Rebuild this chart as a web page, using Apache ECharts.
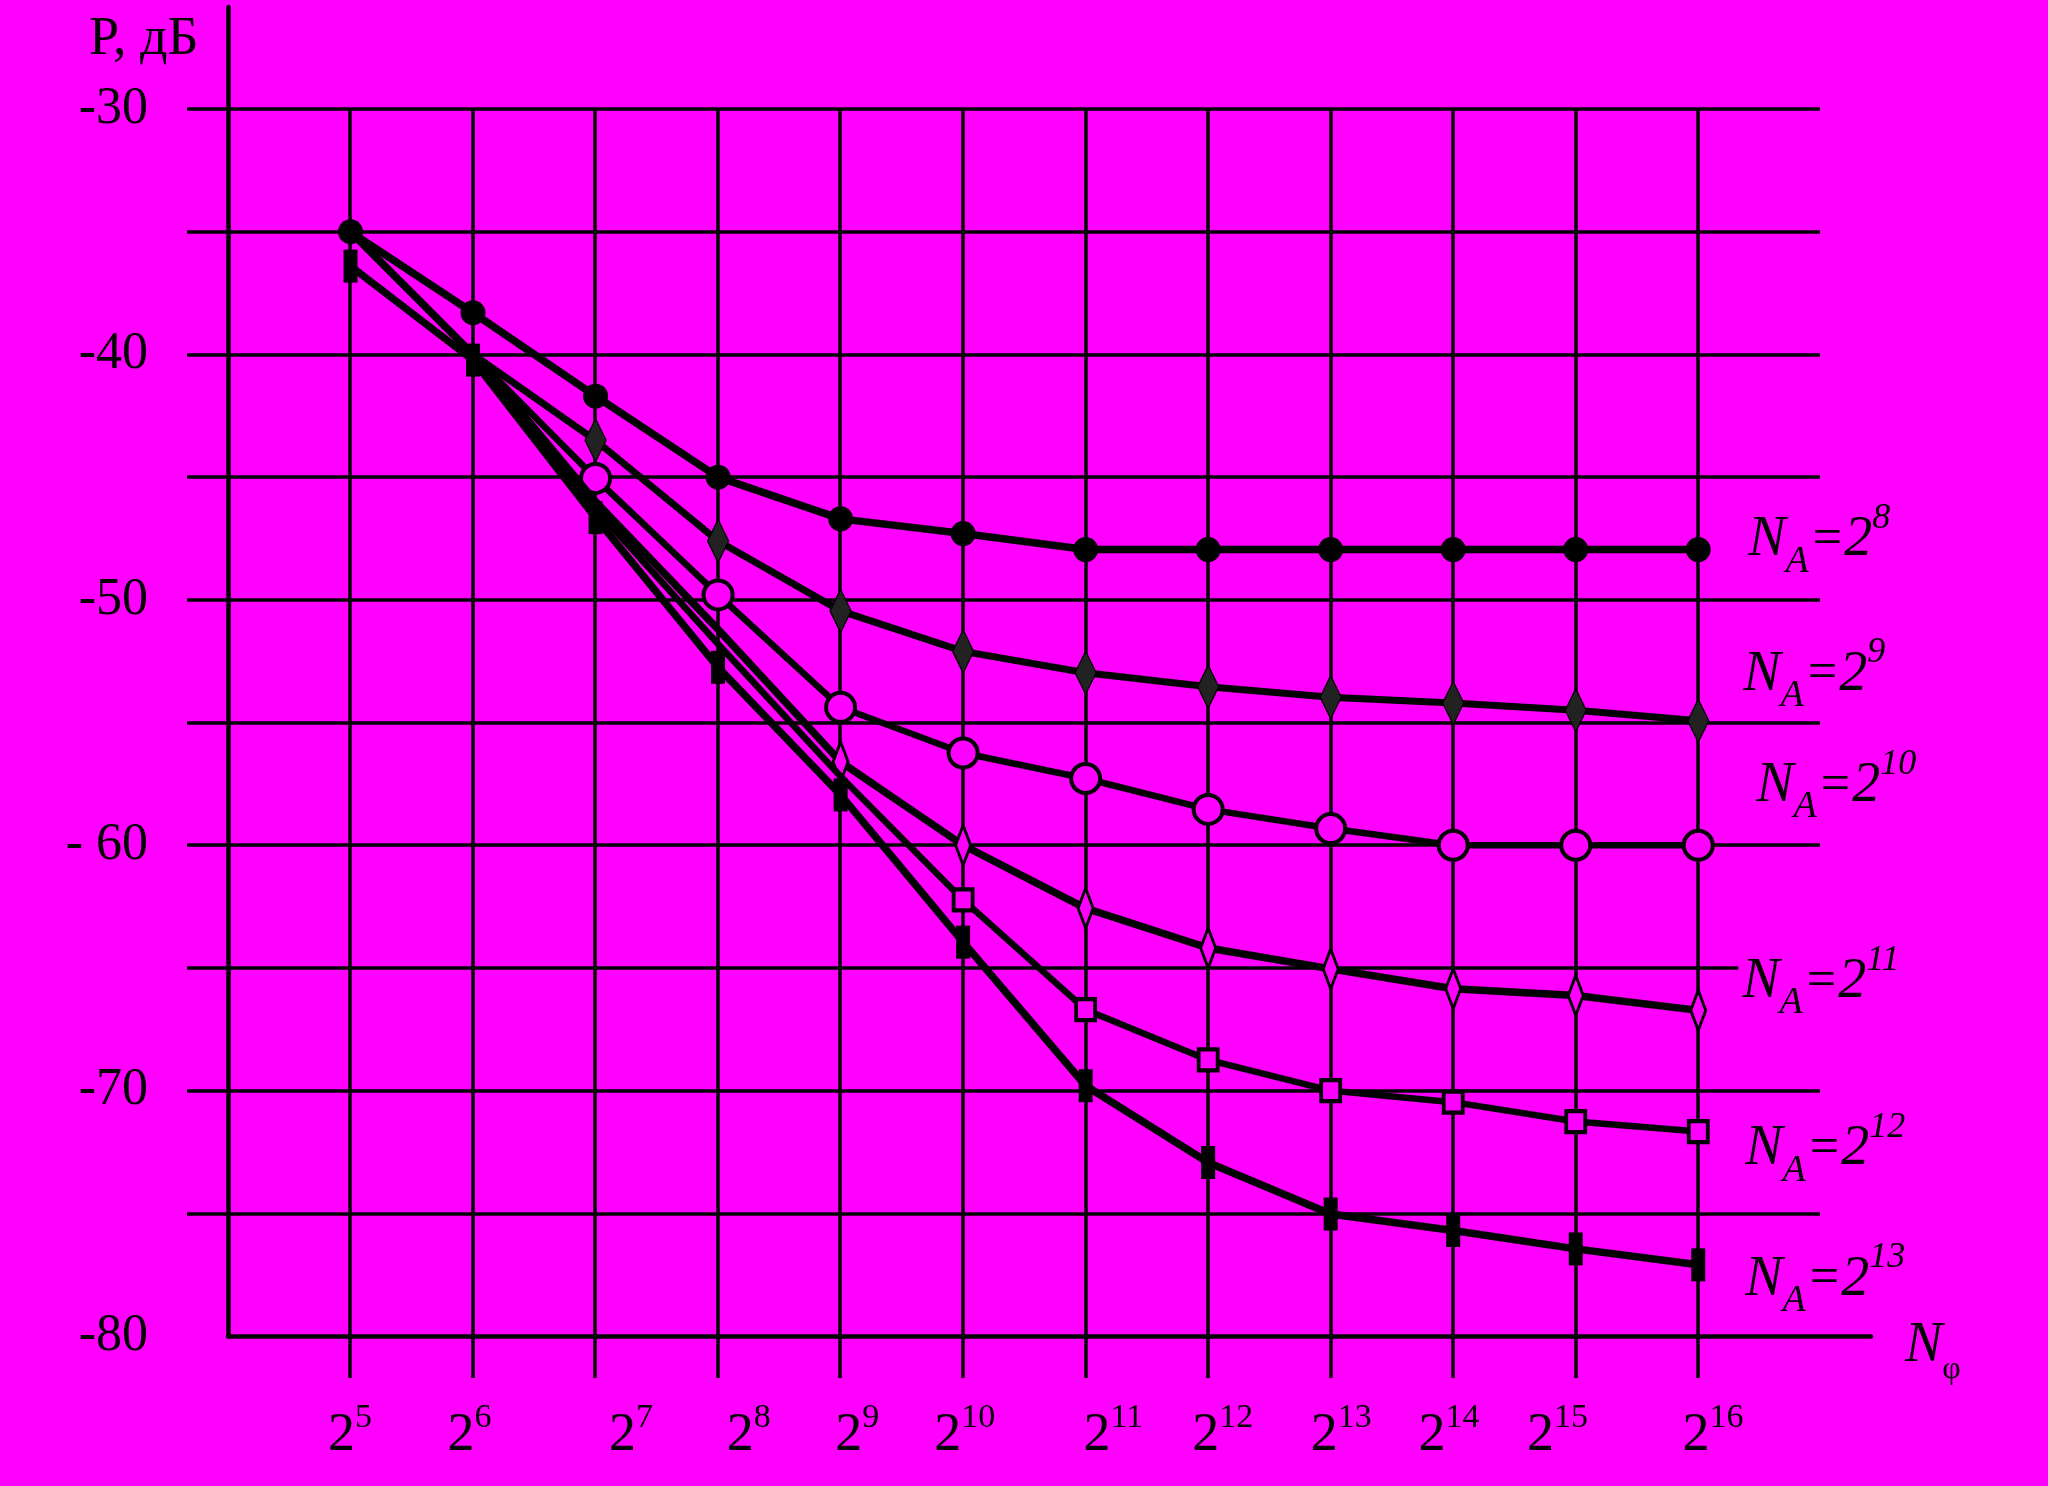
<!DOCTYPE html>
<html>
<head>
<meta charset="utf-8">
<script src="https://cdn.jsdelivr.net/npm/echarts@6/dist/echarts.min.js"></script>
<style>
  html, body { margin: 0; padding: 0; background: #ff00ff; }
  #chart { width: 2048px; height: 1486px; }
</style>
</head>
<body>
<div id="chart"></div>
<script>
// ---- data ----
const exps = [5, 6, 7, 8, 9, 10, 11, 12, 13, 14, 15, 16];            // x = log2(N_phi)
const xTickLabels = ['5', '6', '7', '8', '9', '10', '11', '12', '13', '14', '15', '16'];
const yTickValues = [-80, -70, -60, -50, -40, -30];
const yTickLabels = ['-80', '-70', '- 60', '-50', '-40', '-30'];
const seriesExp = ['8', '9', '10', '11', '12', '13'];                 // N_A = 2^k
const pNA8  = [-35.0, -38.3, -41.7, -45.0, -46.7, -47.3, -47.95, -47.95, -47.95, -47.95, -47.95, -47.95];
const pNA9  = [-35.0, -40.0, -43.5, -47.6, -50.45, -52.1, -52.97, -53.54, -53.97, -54.2, -54.5, -54.93];
const pNA10 = [-35.0, -40.0, -45.05, -49.8, -54.38, -56.24, -57.28, -58.54, -59.32, -60.0, -60.0, -60.0];
const pNA11 = [-35.0, -40.0, -46.0, -51.2, -56.6, -60.0, -62.57, -64.19, -65.04, -65.85, -66.12, -66.73];
const pNA12 = [-35.0, -40.0, -46.3, -51.8, -57.2, -62.23, -66.7, -68.75, -70.0, -70.47, -71.26, -71.67];
const pNA13 = [-36.4, -40.23, -46.65, -52.75, -57.95, -63.95, -69.8, -72.93, -75.03, -75.7, -76.45, -77.1];

// ---- styling ----
const MAG = '#ff00ff';
const SERIF = 'Liberation Serif';
const allValues = [pNA8, pNA9, pNA10, pNA11, pNA12, pNA13];
const markerFrom = [0, 2, 2, 4, 5, 0];
const symbolStyles = [
  { symbol: 'circle', size: 25, item: { color: '#000' } },
  { symbol: 'diamond', size: [21, 43], item: { color: '#222', borderColor: '#000', borderWidth: 1.5 } },
  { symbol: 'circle', size: 29, item: { color: MAG, borderColor: '#000', borderWidth: 4 } },
  { symbol: 'diamond', size: [15, 40], item: { color: MAG, borderColor: '#000', borderWidth: 3.5 } },
  { symbol: 'rect', size: [19, 21], item: { color: MAG, borderColor: '#000', borderWidth: 4 } },
  { symbol: 'rect', size: [14, 33], item: { color: '#000' } }
];
const lineWidths = [7.5, 7, 6.5, 7.5, 6.5, 7.5];
const labelOffsets = [[50, -9], [45, -46], [58, -59], [40, -28], [47, 18], [47, 15]];
const xLabelNudge = [0, -3, 36, 31, 17, 2, 28, 15, 11, -4, -18, 15];

const naRich = {
  n: { fontFamily: SERIF, fontStyle: 'italic', fontSize: 56, lineHeight: 80, verticalAlign: 'middle', color: '#000' },
  a: { fontFamily: SERIF, fontStyle: 'italic', fontSize: 38, lineHeight: 32, verticalAlign: 'bottom', color: '#000' },
  e: { fontFamily: SERIF, fontSize: 52, lineHeight: 80, verticalAlign: 'middle', color: '#000', padding: [0, 2, 0, 4] },
  t: { fontFamily: SERIF, fontStyle: 'italic', fontSize: 56, lineHeight: 80, verticalAlign: 'middle', color: '#000' },
  p: { fontFamily: SERIF, fontStyle: 'italic', fontSize: 36, lineHeight: 58, verticalAlign: 'top', color: '#000' }
};

const xRich = {};
xTickLabels.forEach((t, i) => {
  const dx = xLabelNudge[i];
  xRich['b' + i] = { fontFamily: SERIF, fontSize: 54, lineHeight: 70, verticalAlign: 'middle', color: '#000',
                     padding: [0, 0, 0, dx > 0 ? 2 * dx : 0] };
  xRich['s' + i] = { fontFamily: SERIF, fontSize: 34, lineHeight: 48, verticalAlign: 'top', color: '#000',
                     padding: [0, dx < 0 ? -2 * dx : 0, 0, 0] };
});

const series = allValues.map((vals, si) => {
  const st = symbolStyles[si];
  const data = exps.map((x, i) => {
    const d = { value: [x, vals[i]] };
    if (i < markerFrom[si]) d.symbol = 'none';
    return d;
  });
  return {
    type: 'line',
    xAxisIndex: 0, yAxisIndex: 0,
    data: data,
    symbol: st.symbol,
    symbolSize: st.size,
    showAllSymbol: true,
    itemStyle: st.item,
    lineStyle: { color: '#000', width: lineWidths[si], join: 'round' },
    z: 3 + si,
    silent: true,
    endLabel: {
      show: true,
      distance: 0,
      offset: labelOffsets[si],
      align: 'left',
      verticalAlign: 'middle',
      formatter: () => '{n|N}{a|A}{e|=}{t|2}{p|' + seriesExp[si] + '}',
      rich: naRich,
      backgroundColor: si === 3 ? MAG : 'transparent',
      padding: si === 3 ? [4, 6, 4, 4] : 0
    }
  };
});

const option = {
  backgroundColor: MAG,
  animation: false,
  title: {
    text: 'P, дБ', left: 89, top: 13, padding: 0,
    textStyle: { fontFamily: SERIF, fontSize: 54, fontWeight: 'normal', color: '#000' }
  },
  grid: [
    { left: 228, right: 177, top: 7, bottom: 150 },
    { left: 187, right: 228, top: 109, bottom: 272.7 },
    { left: 350, right: 350, top: 109, bottom: 108 }
  ],
  xAxis: [
    {
      gridIndex: 0, type: 'value', min: 4, max: 17.41,
      axisLine: { show: true, onZero: false, lineStyle: { color: '#000', width: 4.5 } },
      axisTick: { show: false }, axisLabel: { show: false }, splitLine: { show: false },
      name: '{n|N}{f|φ}', nameLocation: 'end', nameGap: 34,
      nameTextStyle: {
        padding: [20, 0, 0, 0],
        rich: {
          n: { fontFamily: SERIF, fontStyle: 'italic', fontSize: 56, lineHeight: 80, verticalAlign: 'middle', color: '#000' },
          f: { fontFamily: SERIF, fontSize: 32, lineHeight: 26, verticalAlign: 'bottom', color: '#000' }
        }
      }
    },
    { gridIndex: 1, type: 'value', min: 0, max: 1, show: false },
    {
      gridIndex: 2, type: 'value', min: 5, max: 16, interval: 1,
      axisLine: { show: false, onZero: false }, axisTick: { show: false },
      splitLine: { show: true, lineStyle: { color: '#000', width: 3.5 } },
      axisLabel: {
        show: true, margin: 23,
        formatter: (v) => {
          const i = exps.indexOf(Math.round(v));
          return i < 0 ? '' : '{b' + i + '|2}{s' + i + '|' + xTickLabels[i] + '}';
        },
        rich: xRich
      }
    }
  ],
  yAxis: [
    {
      gridIndex: 0, type: 'value', min: -80, max: -25.84, interval: 10,
      axisLine: { show: true, onZero: false, lineStyle: { color: '#000', width: 4.5 } },
      axisTick: { show: false }, splitLine: { show: false },
      axisLabel: {
        show: true, margin: 80, fontFamily: SERIF, fontSize: 52, color: '#000',
        formatter: (v) => {
          const i = yTickValues.findIndex(t => Math.abs(t - v) < 1e-6);
          return i < 0 ? '' : yTickLabels[i];
        }
      }
    },
    {
      gridIndex: 1, type: 'value', min: -75, max: -30, interval: 5,
      axisLine: { show: false }, axisTick: { show: false }, axisLabel: { show: false },
      splitLine: { show: true, lineStyle: { color: '#000', width: 3.5 } }
    },
    { gridIndex: 2, type: 'value', min: 0, max: 1, show: false }
  ],
  series: series
};

const chart = echarts.init(document.getElementById('chart'), null, { renderer: 'canvas' });
chart.setOption(option);
</script>
</body>
</html>
